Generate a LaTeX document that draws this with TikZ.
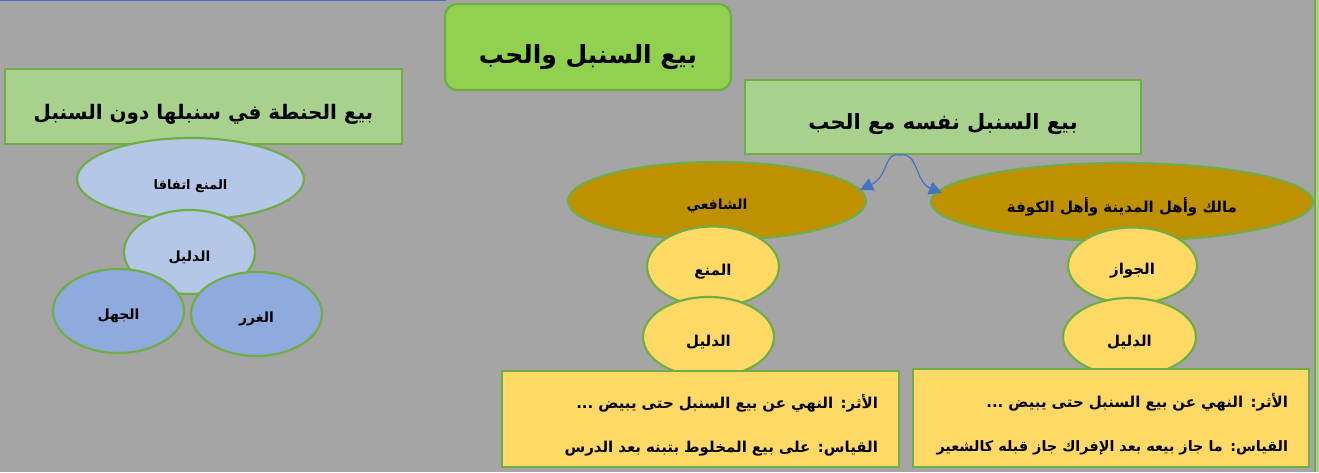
\documentclass[tikz,border=0pt]{standalone}
\usepackage{fontspec}
\newfontfamily\arabicfont[Script=Arabic]{DejaVu Sans}
\TeXXeTstate=1
\usetikzlibrary{shapes.geometric,arrows.meta}
\definecolor{bgc}{HTML}{A5A5A5}
\definecolor{gline}{HTML}{70AD47}
\definecolor{gtitle}{HTML}{92D050}
\definecolor{glight}{HTML}{A9D18E}
\definecolor{blight}{HTML}{B4C7E7}
\definecolor{bmid}{HTML}{8FAADC}
\definecolor{gold}{HTML}{BF9000}
\definecolor{yel}{HTML}{FFD966}
\definecolor{arrblue}{HTML}{4472C4}
\newcommand{\arx}[2][7pt]{\raisebox{-#1}[\height][\depth]{\beginR #2\endR}}
\newcommand{\arline}[1]{\makebox[\linewidth][r]{\raisebox{-11pt}[0pt][0pt]{\beginR #1\endR}}}
\begin{document}
\begin{tikzpicture}[x=1pt,y=-1pt,
  every node/.style={font=\arabicfont\bfseries, text=black},
  shp/.style={draw=gline, line width=2.2pt, inner sep=0pt},
  box/.style={shp, rectangle},
  ell/.style={shp, ellipse},
  fs/.style={font=\arabicfont\bfseries\fontsize{#1}{#1}\selectfont},
  evi/.style={box, fill=yel, text width=355pt, inner xsep=21pt, align=right, font=\arabicfont\bfseries\fontsize{15}{44}\selectfont}
]
\fill[bgc] (0,0) rectangle (1319,472);
\useasboundingbox (0,0) rectangle (1319,472);
\draw[arrblue, line width=1.5pt] (0,0.5) -- (446,0.5);
\draw[gline, line width=2pt] (1315,0) -- (1315,472);
\fill[glight] (1316,0) rectangle (1319,472);

% title
\node[box, fill=gtitle, rounded corners=12pt, minimum width=286pt, minimum height=86pt, fs=25] (title) at (588,47) {\arx[10pt]{بيع السنبل والحب}};

% left branch
\node[box, fill=glight, minimum width=397pt, minimum height=75pt, fs=20] (lbox) at (203.5,106.5) {\arx[8pt]{بيع الحنطة في سنبلها دون السنبل}};
\node[ell, fill=blight, minimum width=227pt, minimum height=82pt, fs=13] (lman) at (190.5,179) {\arx{المنع اتفاقا}};
\node[ell, fill=blight, minimum width=131pt, minimum height=84pt, fs=14] (ldal) at (189.5,252) {\arx[5pt]{الدليل}};
\node[ell, fill=bmid, minimum width=131pt, minimum height=84pt, fs=14] (ljah) at (118.5,311) {\arx[5pt]{الجهل}};
\node[ell, fill=bmid, minimum width=131pt, minimum height=84pt, fs=14] (lgar) at (256.5,314) {\arx[5pt]{الغرر}};

% right branch
\node[box, fill=glight, minimum width=396pt, minimum height=74pt, fs=21] (rbox) at (943,117) {\arx[7pt]{بيع السنبل نفسه مع الحب}};
\node[ell, fill=gold, minimum width=298pt, minimum height=78pt, fs=14] (shafi) at (717,201) {\arx[5pt]{الشافعي}};
\node[ell, fill=gold, minimum width=382pt, minimum height=78pt, fs=15] (malik) at (1122,202) {\arx[5pt]{مالك وأهل المدينة وأهل الكوفة}};

\node[ell, fill=yel, minimum width=132pt, minimum height=80pt, fs=15] (mana) at (713,266.5) {\arx[5pt]{المنع}};
\node[ell, fill=yel, minimum width=131pt, minimum height=80pt, fs=15] (mdal) at (708.5,337) {\arx[5pt]{الدليل}};
\node[evi, minimum width=397pt, minimum height=96pt] (mevi) at (700.5,419) {\arline{الأثر: النهي عن بيع السنبل حتى يبيض ...}\\\arline{القياس: على بيع المخلوط بتبنه بعد الدرس}};

\node[ell, fill=yel, minimum width=129pt, minimum height=76pt, fs=15] (jawaz) at (1132.5,265.5) {\arx[5pt]{الجواز}};
\node[ell, fill=yel, minimum width=133pt, minimum height=78pt, fs=15] (rdal) at (1129.5,337) {\arx[5pt]{الدليل}};
\node[evi, minimum width=396pt, minimum height=98pt, text width=354pt] (revi) at (1111,418) {\arline{الأثر: النهي عن بيع السنبل حتى يبيض ...}\\\arline{\fontsize{14.4}{44}\selectfont القياس: ما جاز بيعه بعد الإفراك جاز قبله كالشعير}};

% curved double connector
\coordinate (ctop) at ([xshift=-43pt]rbox.south);
\coordinate (cl) at (860,190);
\coordinate (cr) at (942,193);
\draw[arrblue, line width=1.2pt, -{Triangle[length=13pt,width=13pt]}] (ctop) .. controls (884,151) and (889,176) .. (cl);
\draw[arrblue, line width=1.2pt, -{Triangle[length=13pt,width=13pt]}] (ctop) .. controls (918,151) and (915,182) .. (cr);
\end{tikzpicture}
\end{document}
